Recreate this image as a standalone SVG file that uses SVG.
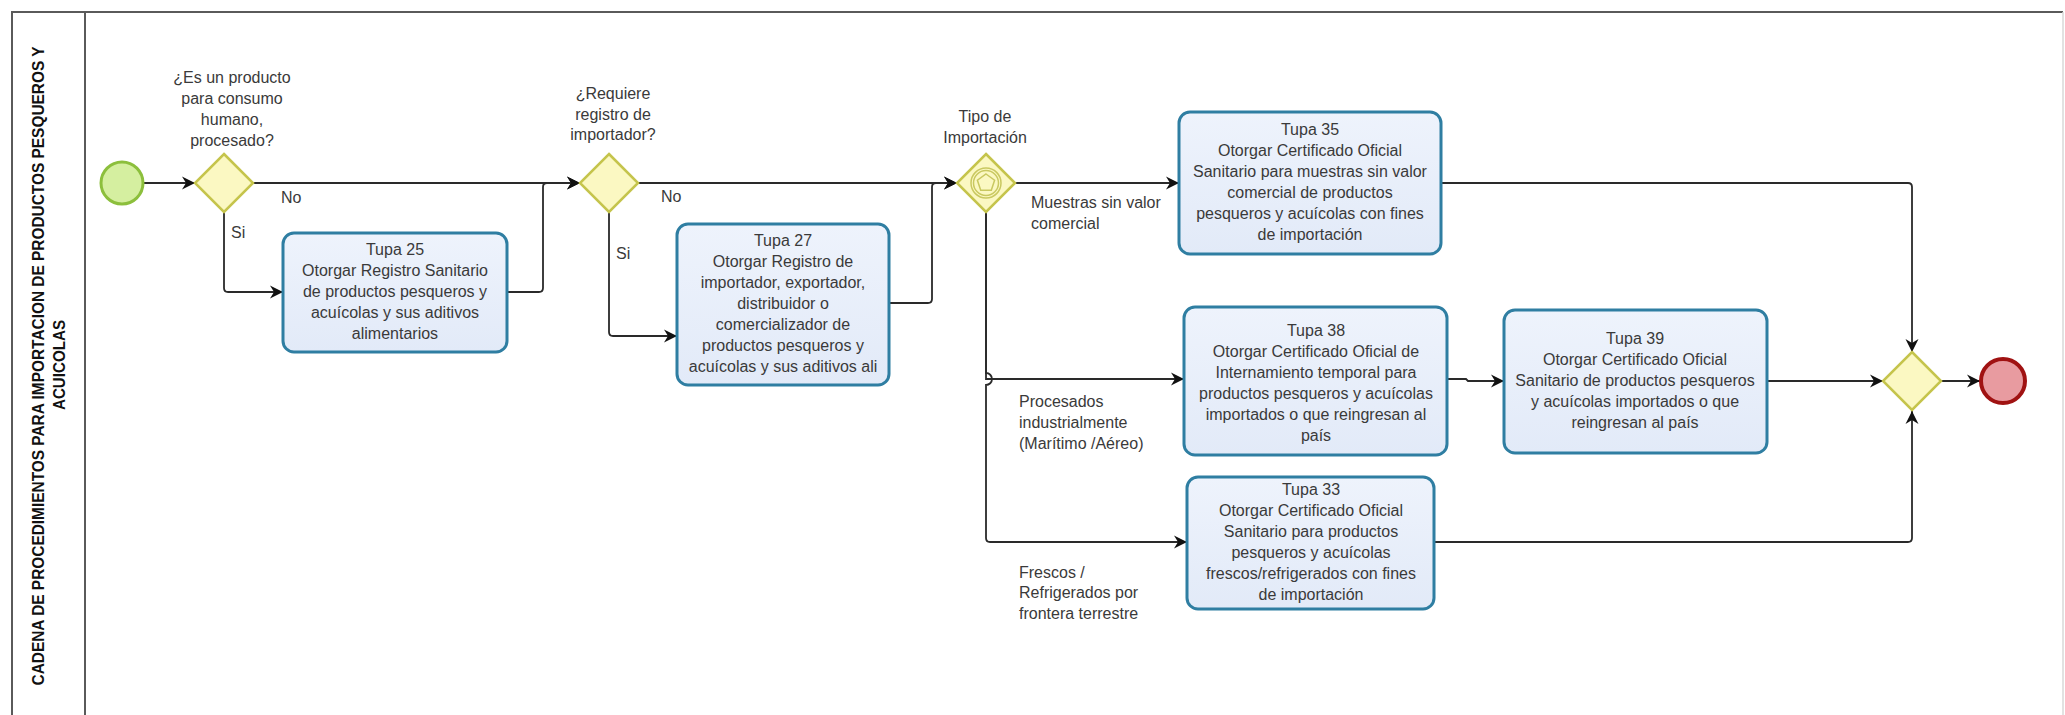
<svg xmlns="http://www.w3.org/2000/svg" width="2065" height="715" viewBox="0 0 2065 715">
<defs>
<marker id="arr" markerUnits="userSpaceOnUse" markerWidth="14" markerHeight="14" refX="13" refY="7" orient="auto">
<path d="M0,0.5 L13,7 L0,13.5 L4,7 Z" fill="#111"/>
</marker>
<linearGradient id="taskg" x1="0" y1="0" x2="0" y2="1">
<stop offset="0" stop-color="#eef3fc"/>
<stop offset="1" stop-color="#e2eaf8"/>
</linearGradient>
</defs>
<style>
text{font-family:"Liberation Sans",Arial,sans-serif;font-size:16px;fill:#3a3a3a}
.task{fill:url(#taskg);stroke:#2f7ea2;stroke-width:3}
.gw{fill:#fbf8c2;stroke:#c5c44c;stroke-width:2.5}
.gwi{fill:none;stroke:#c9c860;stroke-width:1.5}
.c{text-anchor:middle}
.title{font-weight:bold;font-size:16px;fill:#111;text-anchor:middle}
.edge{fill:none;stroke:#2a2a2a;stroke-width:1.8}
.frame{fill:none;stroke:#5a5a5a;stroke-width:2}
</style>
<rect width="2065" height="715" fill="#ffffff"/>
<g id="pool">
<path class="frame" d="M12,715 V12 H2063"/>
<path d="M2063,12 V715" fill="none" stroke="#d8d8d8" stroke-width="1.5"/>
<path class="frame" d="M85,12 V715"/>
<text class="title" transform="translate(43.5,366) rotate(-90)" textLength="639" lengthAdjust="spacingAndGlyphs">CADENA DE PROCEDIMIENTOS PARA IMPORTACION DE PRODUCTOS PESQUEROS Y</text>
<text class="title" transform="translate(65,365) rotate(-90)" textLength="90" lengthAdjust="spacingAndGlyphs">ACUICOLAS</text>
</g>
<g id="connectors">
<path class="edge" d="M143,183 H195" marker-end="url(#arr)"/>
<path class="edge" d="M253,183 H580" marker-end="url(#arr)"/>
<path class="edge" d="M224,212 V288 Q224,292 228,292 H283" marker-end="url(#arr)"/>
<path class="edge" d="M507,292 H539 Q543,292 543,288 V187 Q543,183 547,183 H580" marker-end="url(#arr)"/>
<path class="edge" d="M638,183 H957" marker-end="url(#arr)"/>
<path class="edge" d="M609,212 V332 Q609,336 613,336 H677" marker-end="url(#arr)"/>
<path class="edge" d="M889,303 H928 Q932,303 932,299 V187 Q932,183 936,183 H957" marker-end="url(#arr)"/>
<path class="edge" d="M1015,183 H1179" marker-end="url(#arr)"/>
<path class="edge" d="M986,212 V379 H1184" marker-end="url(#arr)"/>
<path class="edge" d="M986,212 V373 A6,6 0 0 1 986,385 V538 Q986,542 990,542 H1187" marker-end="url(#arr)"/>
<path class="edge" d="M1441,183 H1908 Q1912,183 1912,187 V352" marker-end="url(#arr)"/>
<path class="edge" d="M1447,379 H1466 L1468,381 H1504" marker-end="url(#arr)"/>
<path class="edge" d="M1767,381 H1883" marker-end="url(#arr)"/>
<path class="edge" d="M1434,542 H1908 Q1912,542 1912,538 V411" marker-end="url(#arr)"/>
<path class="edge" d="M1941,381 H1980" marker-end="url(#arr)"/>
</g>
<g id="edge-labels">
<text x="281" y="203">No</text>
<text x="231" y="238">Si</text>
<text x="661" y="202">No</text>
<text x="616" y="259">Si</text>
<text x="1031" y="208">Muestras sin valor</text>
<text x="1031" y="229">comercial</text>
<text x="1019" y="407">Procesados</text>
<text x="1019" y="428">industrialmente</text>
<text x="1019" y="449">(Marítimo /Aéreo)</text>
<text x="1019" y="578">Frescos /</text>
<text x="1019" y="598">Refrigerados por</text>
<text x="1019" y="619">frontera terrestre</text>
</g>
<g id="start">
<circle cx="122" cy="183" r="21" fill="#d5efa0" stroke="#8cbf3c" stroke-width="3"/>
</g>
<g id="gw1">
<path class="gw" d="M224,154 L253,183 L224,212 L195,183 Z"/>
<text class="c" x="232" y="83">¿Es un producto</text>
<text class="c" x="232" y="104">para consumo</text>
<text class="c" x="232" y="125">humano,</text>
<text class="c" x="232" y="146">procesado?</text>
</g>
<g id="tupa25">
<rect class="task" x="283" y="233" width="224" height="119" rx="11"/>
<text class="c" x="395" y="255">Tupa 25</text>
<text class="c" x="395" y="276">Otorgar Registro Sanitario</text>
<text class="c" x="395" y="297">de productos pesqueros y</text>
<text class="c" x="395" y="318">acuícolas y sus aditivos</text>
<text class="c" x="395" y="339">alimentarios</text>
</g>
<g id="gw2">
<path class="gw" d="M609,154 L638,183 L609,212 L580,183 Z"/>
<text class="c" x="613" y="99">¿Requiere</text>
<text class="c" x="613" y="119.5">registro de</text>
<text class="c" x="613" y="140">importador?</text>
</g>
<g id="tupa27">
<rect class="task" x="677" y="224" width="212" height="161" rx="11"/>
<text class="c" x="783" y="246">Tupa 27</text>
<text class="c" x="783" y="267">Otorgar Registro de</text>
<text class="c" x="783" y="288">importador, exportador,</text>
<text class="c" x="783" y="309">distribuidor o</text>
<text class="c" x="783" y="330">comercializador de</text>
<text class="c" x="783" y="351">productos pesqueros y</text>
<text class="c" x="783" y="372">acuícolas y sus aditivos  ali</text>
</g>
<g id="gw3">
<path class="gw" d="M986,154 L1015,183 L986,212 L957,183 Z"/>
<circle class="gwi" cx="986" cy="183" r="15"/>
<circle class="gwi" cx="986" cy="183" r="12.5"/>
<path class="gwi" d="M986,174 L994.6,180.2 L991.3,190.3 L980.7,190.3 L977.4,180.2 Z"/>
<text class="c" x="985" y="122">Tipo de</text>
<text class="c" x="985" y="143">Importación</text>
</g>
<g id="tupa35">
<rect class="task" x="1179" y="112" width="262" height="142" rx="11"/>
<text class="c" x="1310" y="135">Tupa 35</text>
<text class="c" x="1310" y="156">Otorgar Certificado Oficial</text>
<text class="c" x="1310" y="177">Sanitario para muestras sin valor</text>
<text class="c" x="1310" y="198">comercial de productos</text>
<text class="c" x="1310" y="219">pesqueros y acuícolas con fines</text>
<text class="c" x="1310" y="240">de importación</text>
</g>
<g id="tupa38">
<rect class="task" x="1184" y="307" width="263" height="148" rx="11"/>
<text class="c" x="1316" y="336">Tupa 38</text>
<text class="c" x="1316" y="357">Otorgar Certificado Oficial de</text>
<text class="c" x="1316" y="378">Internamiento temporal para</text>
<text class="c" x="1316" y="399">productos pesqueros y acuícolas</text>
<text class="c" x="1316" y="420">importados o que reingresan al</text>
<text class="c" x="1316" y="441">país</text>
</g>
<g id="tupa33">
<rect class="task" x="1187" y="477" width="247" height="132" rx="11"/>
<text class="c" x="1311" y="495">Tupa 33</text>
<text class="c" x="1311" y="516">Otorgar Certificado Oficial</text>
<text class="c" x="1311" y="537">Sanitario para productos</text>
<text class="c" x="1311" y="558">pesqueros y acuícolas</text>
<text class="c" x="1311" y="579">frescos/refrigerados con fines</text>
<text class="c" x="1311" y="600">de importación</text>
</g>
<g id="tupa39">
<rect class="task" x="1504" y="310" width="263" height="143" rx="11"/>
<text class="c" x="1635" y="344">Tupa 39</text>
<text class="c" x="1635" y="365">Otorgar Certificado Oficial</text>
<text class="c" x="1635" y="386">Sanitario de productos pesqueros</text>
<text class="c" x="1635" y="407">y acuícolas importados o que</text>
<text class="c" x="1635" y="428">reingresan al país</text>
</g>
<g id="gw4">
<path class="gw" d="M1912,352 L1941,381 L1912,410 L1883,381 Z"/>
</g>
<g id="end">
<circle cx="2003" cy="381" r="22" fill="#e89ba0" stroke="#a01212" stroke-width="4"/>
</g>
</svg>
